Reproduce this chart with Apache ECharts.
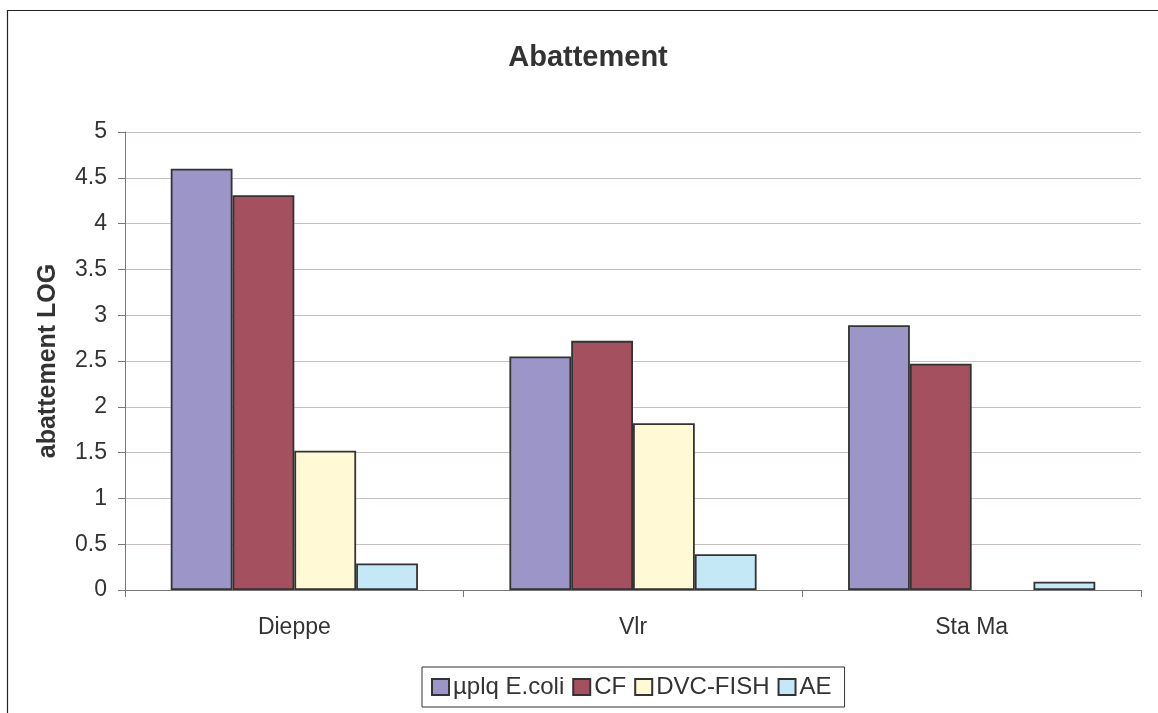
<!DOCTYPE html>
<html>
<head>
<meta charset="utf-8">
<script src="https://cdn.jsdelivr.net/npm/echarts@6/dist/echarts.min.js"></script>
<style>
  html, body { margin: 0; padding: 0; background: #fff; }
  #chart { width: 1158px; height: 713px; }
</style>
</head>
<body>
<div id="chart"></div>
<script>
// Sites and measured log reductions per method (null = not measured)
const sites = ['Dieppe', 'Vlr', 'Sta Ma'];
const ecoli = [4.60, 2.55, 2.89];
const cf = [4.31, 2.72, 2.47];
const dvcFish = [1.52, 1.82, null];
const ae = [0.29, 0.39, 0.09];
const yTicks = [0, 0.5, 1, 1.5, 2, 2.5, 3, 3.5, 4, 4.5, 5];

const FONT = '"Liberation Sans", Arial, sans-serif';
const seriesDefs = [
  { name: 'µplq E.coli', data: ecoli, color: '#9B95C8' },
  { name: 'CF', data: cf, color: '#A5505F' },
  { name: 'DVC-FISH', data: dvcFish, color: '#FFFAD5' },
  { name: 'AE', data: ae, color: '#C5E8F6' }
];

const chart = echarts.init(document.getElementById('chart'));
chart.setOption({
  animation: false,
  backgroundColor: '#fff',
  graphic: [{
    type: 'rect',
    shape: { x: 7.5, y: 10.5, width: 1300, height: 900 },
    style: { fill: 'none', stroke: '#222', lineWidth: 1.2 },
    silent: true
  }],
  title: {
    text: 'Abattement',
    left: 583, top: 38, textAlign: 'center',
    textStyle: { fontFamily: FONT, fontSize: 29, fontWeight: 'bold', color: '#333' }
  },
  legend: {
    left: 422, top: 667,
    padding: [8, 13, 8, 9],
    borderColor: '#333', borderWidth: 1,
    itemWidth: 17, itemHeight: 16, itemGap: 8,
    icon: 'rect',
    textStyle: { fontFamily: FONT, fontSize: 24, color: '#333', padding: [0, 0, 0, -1] },
    data: seriesDefs.map(s => s.name)
  },
  grid: { left: 125, right: 17, top: 132, bottom: 123 },
  xAxis: {
    type: 'category',
    data: sites,
    axisLine: { lineStyle: { color: '#777', width: 1 } },
    axisTick: { show: true, inside: false, length: 7, lineStyle: { color: '#777' } },
    axisLabel: { fontFamily: FONT, fontSize: 23, color: '#333', margin: 26 }
  },
  yAxis: {
    type: 'value',
    min: 0, max: 5, interval: 0.5,
    name: 'abattement LOG',
    nameLocation: 'middle', nameGap: 64,
    nameTextStyle: { fontFamily: FONT, fontSize: 25, fontWeight: 'bold', color: '#333' },
    axisLine: { show: true, lineStyle: { color: '#777', width: 1 } },
    axisTick: { show: true, length: 7, lineStyle: { color: '#777' } },
    axisLabel: {
      fontFamily: FONT, fontSize: 23, color: '#333', margin: 18,
      formatter: v => yTicks.includes(v) ? String(v) : ''
    },
    splitLine: { lineStyle: { color: '#c9c1c1', width: 1 } }
  },
  series: seriesDefs.map(s => ({
    name: s.name,
    type: 'bar',
    data: s.data,
    barGap: '0%',
    barCategoryGap: '27%',
    itemStyle: { color: s.color, borderColor: '#333', borderWidth: 1.8 }
  }))
});
</script>
</body>
</html>
